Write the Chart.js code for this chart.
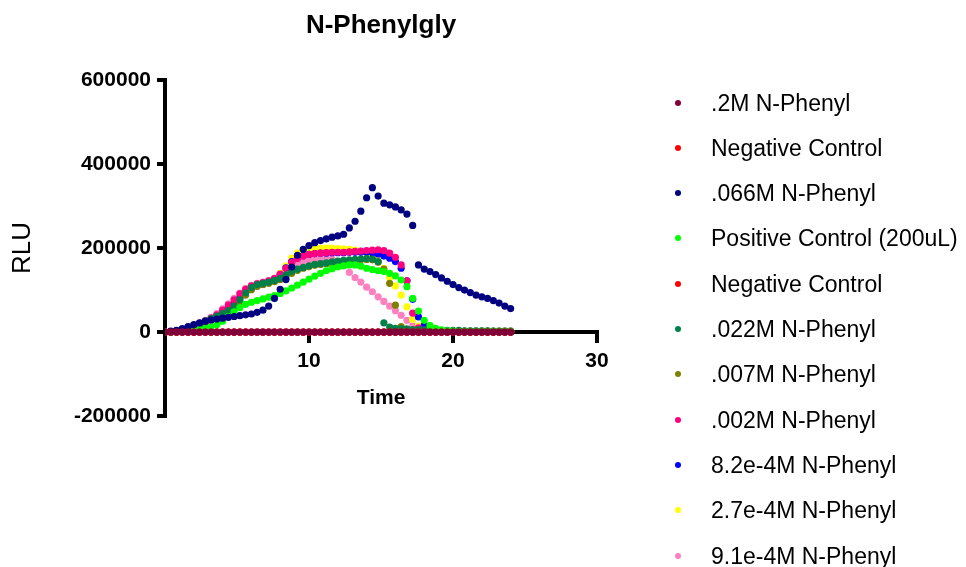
<!DOCTYPE html>
<html>
<head>
<meta charset="utf-8">
<script src="https://cdn.jsdelivr.net/npm/chart.js@4.4.1/dist/chart.umd.min.js"></script>
<style>
  html, body { margin: 0; padding: 0; background: #fff; }
  #wrap { position: relative; width: 966px; height: 567px; overflow: hidden; }
  #chart { position: absolute; left: 0; top: 0; }
  #legend { position: absolute; left: 0; top: 0; font-family: 'Liberation Sans', Arial, sans-serif; font-size: 23px; color: #000; }
  .row { position: absolute; left: 711px; height: 30px; line-height: 30px; white-space: nowrap; }
  .dot { position: absolute; width: 6px; height: 6px; border-radius: 50%; }
</style>
</head>
<body>
<div id="wrap">
  <canvas id="chart" width="966" height="567"></canvas>
  <div id="legend"></div>
</div>
<script>
// --- Data (time in minutes, RLU) ---
const times = [
  0, 0.4, 0.8, 1.2, 1.6, 2.0, 2.4, 2.8, 3.2, 3.6,
  4.0, 4.4, 4.8, 5.2, 5.6, 6.0, 6.4, 6.8, 7.2, 7.6,
  8.0, 8.4, 8.8, 9.2, 9.6, 10.0, 10.4, 10.8, 11.2, 11.6,
  12.0, 12.4, 12.8, 13.2, 13.6, 14.0, 14.4, 14.8, 15.2, 15.6,
  16.0, 16.4, 16.8, 17.2, 17.6, 18.0, 18.4, 18.8, 19.2, 19.6,
  20.0, 20.4, 20.8, 21.2, 21.6, 22.0, 22.4, 22.8, 23.2, 23.6,
  24.0
];

const m02 = [ // .2M N-Phenyl
  0, 0, 0, 0, 0, 0, 0, 0, 0, 0,
  0, 0, 0, 0, 0, 0, 0, 0, 0, 0,
  0, 0, 0, 0, 0, 0, 0, 0, 0, 0,
  0, 0, 0, 0, 0, 0, 0, 0, 0, 0,
  0, 0, 0, 0, 0, 0, 0, 0, 0, 0,
  0, 0, 0, 0, 0, 0, 0, 0, 0, 0,
  0
];
const negA = [ // Negative Control
  0, 0, 0, 0, 0, 0, 0, 0, 0, 0,
  0, 0, 0, 0, 0, 0, 0, 0, 0, 0,
  0, 0, 0, 0, 0, 0, 0, 0, 0, 0,
  0, 0, 0, 0, 0, 0, 0, 0, 0, 0,
  0, 0, 0, 0, 0, 0, 0, 0, 0, 0,
  0, 0, 0, 0, 0, 0, 0, 0, 0, 0,
  0
];
const m066 = [ // .066M N-Phenyl
  0, 2000, 4000, 8000, 13000, 18000, 22000, 26000, 29000, 31000,
  33000, 35000, 37000, 39000, 41000, 43000, 47000, 52000, 62000, 80000,
  102000, 125000, 155000, 183000, 197000, 206000, 213000, 218000, 222000, 226000,
  229000, 233000, 248000, 264000, 288000, 320000, 344000, 324000, 307000, 303000,
  298000, 291000, 281000, 254000, 160000, 150000, 144000, 137000, 129000, 121000,
  113000, 106000, 100000, 94000, 88000, 84000, 80000, 75000, 69000, 62000,
  56000
];
const posCtrl = [ // Positive Control (200uL)
  0, 0, 1000, 1000, 2000, 3000, 5000, 8000, 12000, 18000,
  26000, 37000, 48000, 58000, 66000, 71000, 75000, 79000, 83000, 87000,
  92000, 98000, 105000, 112000, 119000, 126000, 133000, 140000, 146000, 151000,
  155000, 158000, 160000, 160000, 157000, 152000, 149000, 146000, 144000, 140000,
  134000, 124000, 108000, 80000, 50000, 28000, 16000, 9000, 5000, 3000,
  2000, 1000, 1000, 1000, 1000, 1000, 1000, 1000, 1000, 1000,
  1000
];
const negB = [ // Negative Control
  0, 0, 0, 0, 0, 0, 0, 0, 0, 0,
  0, 0, 0, 0, 0, 0, 0, 0, 0, 0,
  0, 0, 0, 0, 0, 0, 0, 0, 0, 0,
  0, 0, 0, 0, 0, 0, 0, 0, 0, 0,
  0, 0, 0, 0, 0, 0, 0, 0, 0, 0,
  0, 0, 0, 0, 0, 0, 0, 0, 0, 0,
  0
];
const m022 = [ // .022M N-Phenyl
  0, 1000, 3000, 6000, 10000, 15000, 20000, 26000, 32000, 38000,
  44000, 51000, 62000, 77000, 93000, 106000, 113000, 116000, 119000, 123000,
  128000, 136000, 144000, 150000, 154000, 158000, 161000, 163000, 165000, 167000,
  169000, 171000, 172000, 173000, 174000, 175000, 174000, 168000, 22000, 12000,
  9000, 8000, 7000, 6000, 6000, 5000, 5000, 5000, 4000, 4000,
  4000, 4000, 3000, 3000, 3000, 3000, 3000, 2000, 2000, 2000,
  2000
];
const m007 = [ // .007M N-Phenyl
  0, 1000, 2000, 5000, 9000, 13000, 18000, 23000, 29000, 35000,
  41000, 48000, 58000, 72000, 88000, 101000, 109000, 113000, 116000, 120000,
  125000, 132000, 140000, 147000, 152000, 156000, 159000, 161000, 163000, 165000,
  167000, 169000, 170000, 171000, 172000, 173000, 172000, 166000, 150000, 116000,
  64000, 13000, 7000, 5000, 4000, 3000, 2000, 2000, 2000, 2000,
  2000, 2000, 2000, 2000, 2000, 2000, 2000, 2000, 2000, 2000,
  2000
];
const m002 = [ // .002M N-Phenyl
  0, 1000, 3000, 6000, 10000, 15000, 20000, 26000, 33000, 41000,
  52000, 64000, 77000, 91000, 102000, 110000, 115000, 118000, 122000, 128000,
  138000, 152000, 166000, 175000, 181000, 185000, 187000, 188000, 189000, 190000,
  190000, 190000, 191000, 192000, 193000, 194000, 195000, 196000, 194000, 188000,
  178000, 160000, 122000, 45000, 10000, 4000, 2000, 1000, 1000, 1000,
  1000, 1000, 1000, 1000, 1000, 1000, 1000, 1000, 1000, 1000,
  1000
];
const m82e4 = [ // 8.2e-4M N-Phenyl
  0, 1000, 3000, 5000, 9000, 14000, 19000, 24000, 30000, 37000,
  46000, 57000, 69000, 82000, 94000, 104000, 110000, 114000, 118000, 125000,
  137000, 153000, 168000, 177000, 182000, 185000, 187000, 188000, 188000, 189000,
  189000, 189000, 190000, 190000, 190000, 190000, 189000, 186000, 181000, 176000,
  168000, 152000, 122000, 78000, 36000, 16000, 7000, 3000, 2000, 1000,
  1000, 1000, 1000, 1000, 1000, 1000, 1000, 1000, 1000, 1000,
  1000
];
const m27e4 = [ // 2.7e-4M N-Phenyl
  0, 1000, 3000, 5000, 9000, 14000, 19000, 25000, 31000, 38000,
  47000, 58000, 70000, 84000, 96000, 106000, 112000, 116000, 120000, 127000,
  140000, 158000, 176000, 188000, 194000, 197000, 199000, 200000, 200000, 200000,
  199000, 198000, 197000, 195000, 192000, 187000, 180000, 170000, 152000, 130000,
  110000, 88000, 60000, 30000, 14000, 6000, 3000, 2000, 1000, 1000,
  1000, 1000, 1000, 1000, 1000, 1000, 1000, 1000, 1000, 1000,
  1000
];
const m91e4 = [ // 9.1e-4M N-Phenyl
  0, 1000, 3000, 6000, 10000, 16000, 22000, 28000, 35000, 44000,
  55000, 67000, 80000, 93000, 104000, 111000, 116000, 119000, 122000, 127000,
  135000, 146000, 157000, 164000, 168000, 171000, 173000, 174000, 175000, 174000,
  168000, 158000, 142000, 130000, 119000, 107000, 96000, 84000, 73000, 62000,
  51000, 40000, 28000, 15000, 5000, 2000, 1000, 1000, 1000, 1000,
  1000, 1000, 1000, 1000, 1000, 1000, 1000, 1000, 1000, 1000,
  1000
];

const seriesLabels = [
  '.2M N-Phenyl', 'Negative Control', '.066M N-Phenyl', 'Positive Control (200uL)',
  'Negative Control', '.022M N-Phenyl', '.007M N-Phenyl', '.002M N-Phenyl',
  '8.2e-4M N-Phenyl', '2.7e-4M N-Phenyl', '9.1e-4M N-Phenyl'
];
const seriesValues = [m02, negA, m066, posCtrl, negB, m022, m007, m002, m82e4, m27e4, m91e4];
const seriesColors = [
  '#80003a', '#ff0000', '#000080', '#00ff00', '#ff0000', '#008048',
  '#808000', '#ff0080', '#0000ff', '#ffff00', '#ff80c0'
];

const yTicks = [-200000, 0, 200000, 400000, 600000];
const xTicks = [0, 10, 20, 30];

const FONT = "'Liberation Sans', Arial, sans-serif";

// --- Build datasets ---
const datasets = seriesLabels.map((label, i) => ({
  label,
  data: times.map((t, j) => ({ x: t, y: seriesValues[i][j] })),
  backgroundColor: seriesColors[i],
  borderWidth: 0,
  pointRadius: 3.6,
  pointHoverRadius: 3.6,
  showLine: false
}));

const chart = new Chart(document.getElementById('chart'), {
  type: 'scatter',
  data: { datasets },
  options: {
    responsive: false,
    animation: false,
    layout: { padding: { left: 0, top: 0, right: 369, bottom: 151 } },
    plugins: {
      legend: { display: false },
      tooltip: { enabled: false },
      title: {
        display: true,
        text: 'N-Phenylgly',
        fullSize: false,
        color: '#000',
        font: { family: FONT, size: 26, weight: 'bold' },
        padding: { top: 10, bottom: 39 }
      }
    },
    scales: {
      x: {
        type: 'linear',
        position: { y: 0 },
        min: 0, max: 30,
        afterBuildTicks: s => { s.ticks = xTicks.map(v => ({ value: v })); },
        ticks: {
          color: '#000',
          padding: 8,
          font: { family: FONT, size: 21, weight: 'bold' },
          callback: v => (v === 0 ? '' : v)
        },
        grid: { drawOnChartArea: false, drawTicks: true, tickLength: 9, lineWidth: 4, color: '#000' },
        border: { display: true, width: 4, color: '#000' },
        title: {
          display: true, text: 'Time', color: '#000',
          font: { family: FONT, size: 21, weight: 'bold' },
          padding: { top: 3, bottom: 0 }
        }
      },
      y: {
        type: 'linear',
        position: 'left',
        min: -200000, max: 600000,
        afterBuildTicks: s => { s.ticks = yTicks.map(v => ({ value: v })); },
        afterFit: s => { s.width = 165; },
        ticks: {
          color: '#000',
          padding: 6,
          font: { family: FONT, size: 21, weight: 'bold' },
          callback: v => String(v)
        },
        grid: { drawOnChartArea: false, drawTicks: true, tickLength: 8, lineWidth: 4, color: '#000' },
        border: { display: true, width: 4, color: '#000' },
        title: {
          display: true, text: 'RLU', color: '#000',
          font: { family: FONT, size: 26 },
          padding: { top: 7, bottom: 0 }
        }
      }
    }
  }
});

// --- HTML legend from the datasets ---
const legendEl = document.getElementById('legend');
chart.data.datasets.forEach((ds, i) => {
  const cy = 102.5 + i * 45.3;
  const dot = document.createElement('div');
  dot.className = 'dot';
  dot.style.left = (678 - 3) + 'px';
  dot.style.top = (cy - 3) + 'px';
  dot.style.background = ds.backgroundColor;
  legendEl.appendChild(dot);
  const row = document.createElement('div');
  row.className = 'row';
  row.style.top = (cy - 15) + 'px';
  row.textContent = ds.label;
  legendEl.appendChild(row);
});
</script>
</body>
</html>
